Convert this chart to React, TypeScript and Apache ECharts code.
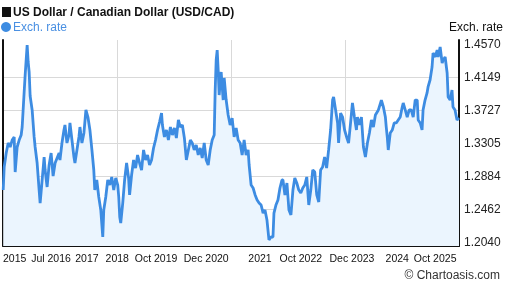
import React, { useEffect, useRef } from "react";
import * as echarts from "echarts";

const title = "US Dollar / Canadian Dollar (USD/CAD)";
const seriesName = "Exch. rate";
const axisTitle = "Exch. rate";
const credit = "© Chartoasis.com";

const startDate = "2015-07-09";
const endDate = "2025-07-09";

const dates = [
  "2015-07-09","2015-07-17","2015-08-02","2015-08-18","2015-09-03","2015-09-19","2015-10-05","2015-10-13","2015-10-29","2015-11-14",
  "2015-11-30","2015-12-08","2015-12-24","2016-01-01","2016-01-17","2016-01-25","2016-02-02","2016-02-10","2016-02-26","2016-03-13",
  "2016-03-21","2016-04-06","2016-04-22","2016-04-30","2016-05-16","2016-06-01","2016-06-09","2016-06-25","2016-07-11","2016-07-27",
  "2016-08-12","2016-08-28","2016-09-13","2016-09-29","2016-10-06","2016-10-22","2016-11-07","2016-11-15","2016-12-01","2016-12-17",
  "2016-12-25","2017-01-10","2017-01-26","2017-02-03","2017-02-19","2017-03-07","2017-03-15","2017-03-31","2017-04-16","2017-05-02",
  "2017-05-18","2017-06-03","2017-06-19","2017-07-04","2017-07-12","2017-07-28","2017-08-13","2017-08-29","2017-09-14","2017-09-22",
  "2017-10-08","2017-10-24","2017-11-09","2017-11-25","2017-12-11","2017-12-27","2018-01-12","2018-01-20","2018-01-28","2018-02-05",
  "2018-02-21","2018-03-08","2018-03-24","2018-04-09","2018-04-17","2018-05-03","2018-05-19","2018-06-04","2018-06-20","2018-07-06",
  "2018-07-22","2018-08-07","2018-08-23","2018-09-08","2018-09-24","2018-10-10","2018-10-26","2018-11-11","2018-11-27","2018-12-13",
  "2018-12-29","2019-01-05","2019-01-21","2019-02-06","2019-02-22","2019-03-10","2019-03-26","2019-04-11","2019-04-27","2019-05-13",
  "2019-05-29","2019-06-14","2019-06-30","2019-07-16","2019-08-01","2019-08-17","2019-09-01","2019-09-17","2019-10-03","2019-10-19",
  "2019-11-04","2019-11-20","2019-12-06","2019-12-22","2020-01-07","2020-01-23","2020-02-08","2020-02-24","2020-03-03","2020-03-11",
  "2020-03-19","2020-03-27","2020-04-04","2020-04-12","2020-04-20","2020-05-06","2020-05-14","2020-05-30","2020-06-15","2020-07-01",
  "2020-07-17","2020-08-02","2020-08-18","2020-09-03","2020-09-19","2020-10-05","2020-10-21","2020-11-06","2020-11-22","2020-11-30",
  "2020-12-16","2021-01-01","2021-01-17","2021-02-02","2021-02-18","2021-03-06","2021-03-22","2021-04-06","2021-04-22","2021-05-08",
  "2021-05-24","2021-06-09","2021-06-17","2021-07-03","2021-07-19","2021-08-04","2021-08-20","2021-08-28","2021-09-13","2021-09-29",
  "2021-10-15","2021-10-31","2021-11-16","2021-12-01","2021-12-17","2022-01-02","2022-01-18","2022-02-03","2022-02-19","2022-03-07",
  "2022-03-23","2022-04-08","2022-04-24","2022-05-10","2022-05-26","2022-06-11","2022-06-26","2022-07-12","2022-07-28","2022-08-13",
  "2022-08-29","2022-09-06","2022-09-14","2022-09-22","2022-09-30","2022-10-08","2022-10-24","2022-11-09","2022-11-17","2022-12-03",
  "2022-12-19","2023-01-04","2023-01-20","2023-02-05","2023-02-21","2023-03-08","2023-03-24","2023-04-09","2023-04-17","2023-05-03",
  "2023-05-19","2023-06-04","2023-06-20","2023-07-06","2023-07-22","2023-08-07","2023-08-23","2023-09-08","2023-10-02","2023-10-26",
  "2023-11-11","2023-11-27","2023-12-04","2023-12-12","2023-12-20","2024-01-05","2024-01-21","2024-02-06","2024-02-22","2024-03-09",
  "2024-03-25","2024-04-10","2024-04-18","2024-05-04","2024-05-20","2024-06-05","2024-06-21","2024-07-07","2024-07-23","2024-08-08",
  "2024-08-16","2024-09-01","2024-09-16","2024-09-24","2024-10-10","2024-10-26","2024-11-03","2024-11-19","2024-12-05","2024-12-13",
  "2024-12-30","2025-01-15","2025-01-23","2025-02-08","2025-02-24","2025-03-04","2025-03-20","2025-04-05","2025-04-13","2025-04-29",
  "2025-05-14","2025-05-22","2025-06-07","2025-06-23","2025-07-09"
];

const rates = [
  1.2704,1.2998,1.3177,1.3305,1.3254,1.3343,1.3382,1.2934,1.3254,1.3343,
  1.3407,1.3509,1.3957,1.4174,1.4557,1.4340,1.4212,1.3906,1.3727,1.3382,
  1.3254,1.3049,1.2704,1.2538,1.2832,1.3126,1.2960,1.2743,1.3024,1.3177,
  1.2883,1.3049,1.3113,1.3177,1.3088,1.3305,1.3471,1.3535,1.3305,1.3407,
  1.3561,1.3343,1.3126,1.3049,1.3216,1.3382,1.3509,1.3305,1.3433,1.3727,
  1.3637,1.3471,1.3216,1.2960,1.2704,1.2832,1.2615,1.2449,1.2104,1.2449,
  1.2615,1.2832,1.2768,1.2871,1.2704,1.2858,1.2768,1.2615,1.2359,1.2283,
  1.2538,1.2832,1.3049,1.2858,1.2641,1.2896,1.3088,1.2985,1.3152,1.3049,
  1.2960,1.3216,1.3088,1.3152,1.3024,1.3088,1.3241,1.3343,1.3471,1.3573,
  1.3688,1.3535,1.3382,1.3471,1.3343,1.3509,1.3407,1.3497,1.3369,1.3599,
  1.3509,1.3535,1.3369,1.3088,1.3216,1.3343,1.3305,1.3216,1.3279,1.3152,
  1.3241,1.3113,1.3305,1.3088,1.3024,1.3216,1.3343,1.3407,1.3982,1.4366,
  1.4493,1.4238,1.3918,1.4084,1.4212,1.3854,1.4136,1.3854,1.3663,1.3535,
  1.3624,1.3382,1.3497,1.3343,1.3305,1.3152,1.3343,1.3152,1.3216,1.3024,
  1.2768,1.2730,1.2641,1.2577,1.2538,1.2513,1.2410,1.2449,1.2321,1.2066,
  1.2104,1.2104,1.2410,1.2513,1.2577,1.2730,1.2832,1.2832,1.2641,1.2794,
  1.2449,1.2385,1.2704,1.2858,1.2794,1.2704,1.2666,1.2730,1.2768,1.2871,
  1.2513,1.2704,1.2960,1.2934,1.2641,1.2551,1.2960,1.2998,1.3126,1.2985,
  1.3216,1.3343,1.3471,1.3663,1.3854,1.3893,1.3727,1.3561,1.3305,1.3688,
  1.3637,1.3471,1.3382,1.3305,1.3561,1.3816,1.3637,1.3471,1.3637,1.3535,
  1.3637,1.3254,1.3126,1.3305,1.3433,1.3599,1.3509,1.3663,1.3727,1.3854,
  1.3765,1.3637,1.3509,1.3382,1.3216,1.3433,1.3471,1.3561,1.3561,1.3599,
  1.3637,1.3765,1.3816,1.3727,1.3637,1.3727,1.3727,1.3637,1.3854,1.3854,
  1.3599,1.3561,1.3471,1.3727,1.3854,1.3944,1.4021,1.4110,1.4276,1.4455,
  1.4404,1.4493,1.4404,1.4532,1.4327,1.4366,1.4404,1.4199,1.3893,1.3854,
  1.3982,1.3765,1.3727,1.3599,1.3624
];

const yTicks = [1.204, 1.2462, 1.2884, 1.3305, 1.3727, 1.4149, 1.457];
const yMin = 1.1989;
const yMax = 1.4621;

const xLabelTexts = ["2015", "Jul 2016", "2017", "2018", "Oct 2019", "Dec 2020", "2021", "Oct 2022", "Dec 2023", "2024", "Oct 2025"];
const xLabelDates = ["2015-10-09", "2016-07-26", "2017-05-10", "2018-01-08", "2018-11-15", "2019-12-22", "2021-02-25", "2022-01-18", "2023-03-04", "2024-03-01", "2024-12-30"];

const FONT = 'Arial, "Liberation Sans", Helvetica, sans-serif';

export default function App() {
  const ref = useRef<HTMLDivElement>(null);
  useEffect(() => {
    document.body.style.margin = "0";
    if (!ref.current) return;
    const chart = echarts.init(ref.current, null, { renderer: "svg" });
    const toT = (d: string) => Date.parse(d + "T00:00:00Z");
    const tMin = toT(startDate);
    const tMax = toT(endDate);
    const quarters = [1, 2, 3].map((k) => tMin + (k * (tMax - tMin)) / 4);
    const labelTimes = xLabelDates.map(toT);
    const labelFor = (v: number) => {
      let best = 0;
      for (let i = 1; i < labelTimes.length; i++) {
        if (Math.abs(labelTimes[i] - v) < Math.abs(labelTimes[best] - v)) best = i;
      }
      return xLabelTexts[best];
    };
    const data = dates.map((d, i) => [toT(d), rates[i]]);
    chart.setOption({
      animation: false,
      textStyle: { fontFamily: FONT },
      grid: { left: 1, right: 48, top: 40, bottom: 42 },
      title: {
        text: title,
        left: 13,
        top: 6,
        padding: 0,
        textStyle: { fontSize: 12, fontWeight: "bold", color: "#111", fontFamily: FONT, lineHeight: 12 },
      },
      legend: {
        data: [{ name: seriesName, icon: "circle" }],
        left: 0,
        top: 21,
        itemWidth: 10,
        itemHeight: 10,
        itemGap: 2,
        padding: [0, 0, 0, 1],
        textStyle: { color: "#4a90e2", fontSize: 12, fontFamily: FONT, padding: [0, 0, 0, -3] },
        selectedMode: false,
      },
      graphic: [
        { type: "rect", left: 2, top: 7, shape: { width: 9, height: 10 }, style: { fill: "#111" } },
        {
          type: "text",
          right: 4,
          top: 21,
          style: { text: axisTitle, fill: "#111", font: `12px ${FONT}` },
        },
        {
          type: "text",
          right: 7,
          top: 269,
          style: { text: credit, fill: "#333", font: `12px ${FONT}` },
        },
      ],
      xAxis: {
        type: "value",
        min: tMin,
        max: tMax,
        axisLine: { show: true, lineStyle: { color: "#111", width: 2 } },
        axisTick: { show: false, customValues: quarters },
        splitLine: { show: true, lineStyle: { color: "#d9d9d9", width: 1 } },
        axisLabel: {
          customValues: labelTimes,
          formatter: (v: number) => labelFor(v),
          fontSize: 10.5,
          color: "#111",
          margin: 6,
          hideOverlap: false,
          fontFamily: FONT,
        },
      },
      yAxis: [
        {
          type: "value",
          position: "right",
          min: yMin,
          max: yMax,
          axisLine: { show: true, lineStyle: { color: "#111", width: 2 } },
          axisTick: { show: false, customValues: yTicks.slice(0, yTicks.length - 1) },
          splitLine: { show: true, lineStyle: { color: "#d9d9d9", width: 1 } },
          axisLabel: {
            customValues: yTicks,
            formatter: (v: number) => v.toFixed(4),
            fontSize: 12,
            color: "#222",
            margin: 5,
            fontFamily: FONT,
          },
        },
        {
          type: "value",
          position: "left",
          min: yMin,
          max: yMax,
          axisLine: { show: true, lineStyle: { color: "#111", width: 2 } },
          axisTick: { show: false },
          splitLine: { show: false },
          axisLabel: { show: false },
        },
      ],
      series: [
        {
          name: seriesName,
          type: "line",
          data,
          showSymbol: false,
          symbol: "circle",
          itemStyle: { color: "#3d8ce2" },
          lineStyle: { color: "#3d8ce2", width: 2.8 },
          areaStyle: { color: "#ebf5fe", opacity: 1 },
        },
      ],
    });
    return () => chart.dispose();
  }, []);
  return <div ref={ref} style={{ position: "fixed", left: 0, top: 0, width: 507, height: 288 }} />;
}
